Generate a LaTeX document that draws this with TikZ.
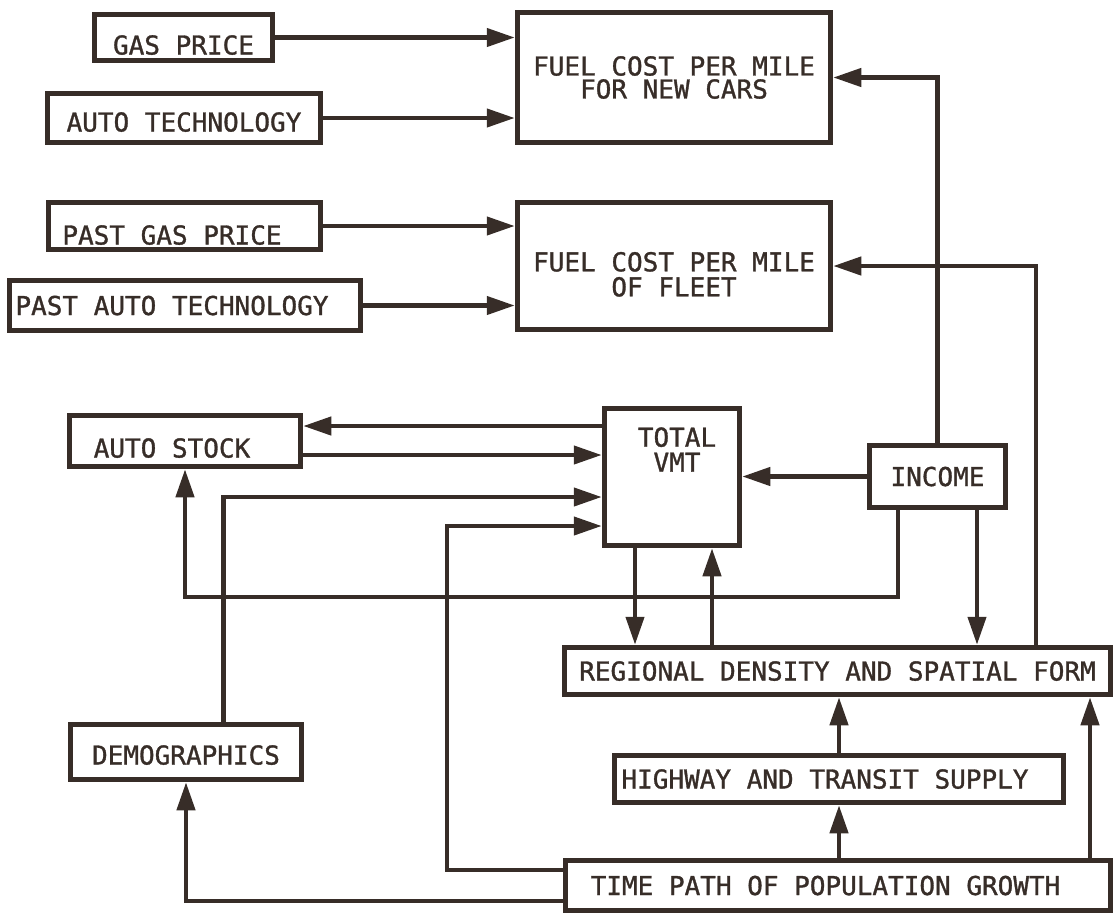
\documentclass[tikz,border=0pt]{standalone}
\usepackage{fontspec}
\usetikzlibrary{arrows.meta}
\newfontfamily\plotfont[FakeBold=1.2]{DejaVu Sans Mono}
\definecolor{ink}{RGB}{55,45,40}
\begin{document}
\begin{tikzpicture}[x=1pt,y=-1pt,
  box/.style={draw=ink,line width=5.5pt,rectangle,inner sep=0pt,text=ink,
    font=\plotfont\fontsize{26}{25}\selectfont,align=center},
  one/.style={text height=19pt,text depth=0pt},
  txt/.style={inner sep=0pt,text=ink,font=\plotfont\fontsize{26}{25}\selectfont},
  arr/.style={draw=ink,line width=4.3pt,-{Triangle[length=28pt,width=18pt]}},
  lin/.style={draw=ink,line width=4.3pt}]
\useasboundingbox (0,0) rectangle (1116,914);
% boxes
\node[box,one,text height=34pt,minimum width=178pt,minimum height=46pt] (gas) at (183.5,37.5) {GAS PRICE};
\node[box,one,text height=27pt,minimum width=273pt,minimum height=49pt] (autotech) at (184,118) {AUTO TECHNOLOGY};
\node[box,one,text height=37pt,minimum width=272pt,minimum height=47pt] (pastgas) at (184.5,226) {PAST GAS PRICE\hspace*{25pt}};
\node[box,one,minimum width=351pt,minimum height=50pt] (pastauto) at (185,305.5) {PAST AUTO TECHNOLOGY\hspace*{26pt}};
\node[box,minimum width=313pt,minimum height=130pt] (fuelnew) at (674,77.5) {FUEL COST PER MILE\\[-2pt]FOR NEW CARS};
\node[box,minimum width=313pt,minimum height=127pt] (fuelfleet) at (674,266) {\rule{0pt}{36pt}FUEL COST PER MILE\\OF FLEET};
\node[box,one,text height=33pt,minimum width=231pt,minimum height=51pt] (autostock) at (185,441) {AUTO STOCK\hspace*{26pt}};
\node[box,minimum width=135pt,minimum height=137pt] (vmt) at (672,477) {};
\node[txt,align=center] (vmttxt) at ([shift={(5pt,27.5pt)}]vmt.center) {TOTAL\\VMT};
\node[box,one,minimum width=136pt,minimum height=62pt] (income) at (937.5,476.5) {INCOME};
\node[box,one,text height=25pt,minimum width=231pt,minimum height=55pt] (demo) at (186,752) {DEMOGRAPHICS};
\node[box,one,minimum width=546pt,minimum height=47pt] (regional) at (837.5,671) {REGIONAL DENSITY AND SPATIAL FORM};
\node[box,one,minimum width=449pt,minimum height=47pt] (highway) at (839,779) {HIGHWAY AND TRANSIT SUPPLY\hspace*{28pt}};
\node[box,one,minimum width=545pt,minimum height=50pt] (timepath) at (838,885.5) {TIME PATH OF POPULATION GROWTH\hspace*{25pt}};
% helper coordinates
\coordinate (vs1) at ([yshift=51pt]vmt.west);
\coordinate (vs2) at ([yshift=22pt]vmt.west);
\coordinate (vs3) at ([yshift=-20pt]vmt.west);
\coordinate (vs4) at ([yshift=-49pt]vmt.west);
\coordinate (d1) at ([xshift=37.5pt]demo.north);
\coordinate (t1) at ([yshift=15.5pt]timepath.west);
\coordinate (t2) at ([yshift=-15.5pt]timepath.west);
\coordinate (t3) at ([xshift=252pt]timepath.north);
\coordinate (tcorner) at (447,0);
\coordinate (iy) at (0,597);
\coordinate (i1) at ([xshift=-39.5pt]income.south);
\coordinate (i2) at ([xshift=39.5pt]income.south);
\coordinate (v5) at ([xshift=-37pt]vmt.south);
\coordinate (r1) at ([xshift=-125.5pt]regional.north);
\coordinate (r2) at ([xshift=198.5pt]regional.north);
% connectors
\draw[arr] (gas.east) -- (gas.east -| fuelnew.west);
\draw[arr] (autotech.east) -- (autotech.east -| fuelnew.west);
\draw[arr] (pastgas.east) -- (pastgas.east -| fuelfleet.west);
\draw[arr] (pastauto.east) -- (pastauto.east -| fuelfleet.west);
\draw[arr] (income.north) |- (fuelnew.east);
\draw[arr] (r2) |- (fuelfleet.east);
\draw[arr] (vs1) -- (vs1 -| autostock.east);
\draw[arr] (vs2 -| autostock.east) -- (vs2);
\draw[arr] (d1) |- (vs3);
\draw[arr] (t1) -| (tcorner |- vs4) -- (vs4);
\draw[arr] (t2) -| (demo.south);
\draw[arr] (i1) -- (i1 |- iy) -| (autostock.south);
\draw[arr] (income.west) -- (income.west -| vmt.east);
\draw[arr] (i2) -- (i2 |- regional.north);
\draw[arr] (v5) -- (v5 |- regional.north);
\draw[arr] (r1) -- (r1 |- vmt.south);
\draw[arr] (highway.north) -- (highway.north |- regional.south);
\draw[arr] (highway.south |- timepath.north) -- (highway.south);
\draw[arr] (t3) -- (t3 |- regional.south);
\end{tikzpicture}
\end{document}
